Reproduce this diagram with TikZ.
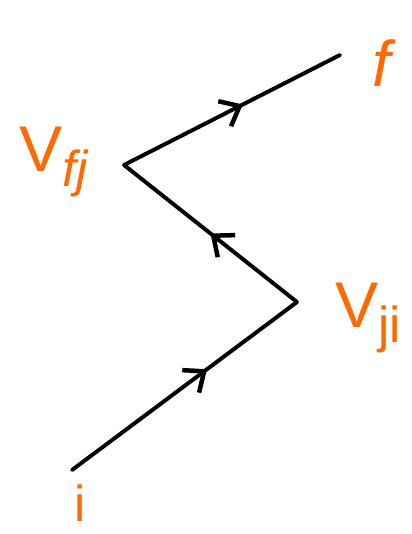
\documentclass[tikz,border=0pt]{standalone}
\usepackage{fontspec}
\setmainfont{Liberation Sans}
\usetikzlibrary{arrows.meta,decorations.markings}
\definecolor{lbl}{HTML}{FF6A00}
\newcommand{\labbig}[1]{{\fontsize{46}{46}\selectfont #1}}
\newcommand{\labsub}[1]{{\fontsize{36}{36}\selectfont\raisebox{-0.55ex}{#1}}}
\tikzset{
  leg/.style={line width=2.8pt,line cap=round},
  midarr/.style={postaction={decorate,decoration={markings,
      mark=at position #1 with {\arrow[line width=3.2pt]{Straight Barb[length=12pt,width=20pt]}}}}},
  lab/.style={text=lbl,inner sep=0pt},
}
\begin{document}
\begin{tikzpicture}[x=0.025cm,y=-0.025cm]
\useasboundingbox (0,0) rectangle (412,534);
% path vertices
\coordinate (i) at (72,470);
\coordinate (vji) at (297,302);
\coordinate (vfj) at (124,165);
\coordinate (f) at (340,55);
\draw[leg,midarr=0.6] (i) -- (vji);
\draw[leg,midarr=0.5] (vji) -- (vfj);
\draw[leg,midarr=0.55] (vfj) -- (f);
% labels
\node[lab] (lf) at (381,63) {\labbig{\itshape f}};
\node[lab] (lvfj) at (54,162) {\labbig{V}\labsub{\itshape fj}};
\node[lab] (lvji) at (368,318) {\labbig{V}\labsub{ji}};
\node[lab] (li) at (80,503) {\labsub{i}};
\end{tikzpicture}
\end{document}
